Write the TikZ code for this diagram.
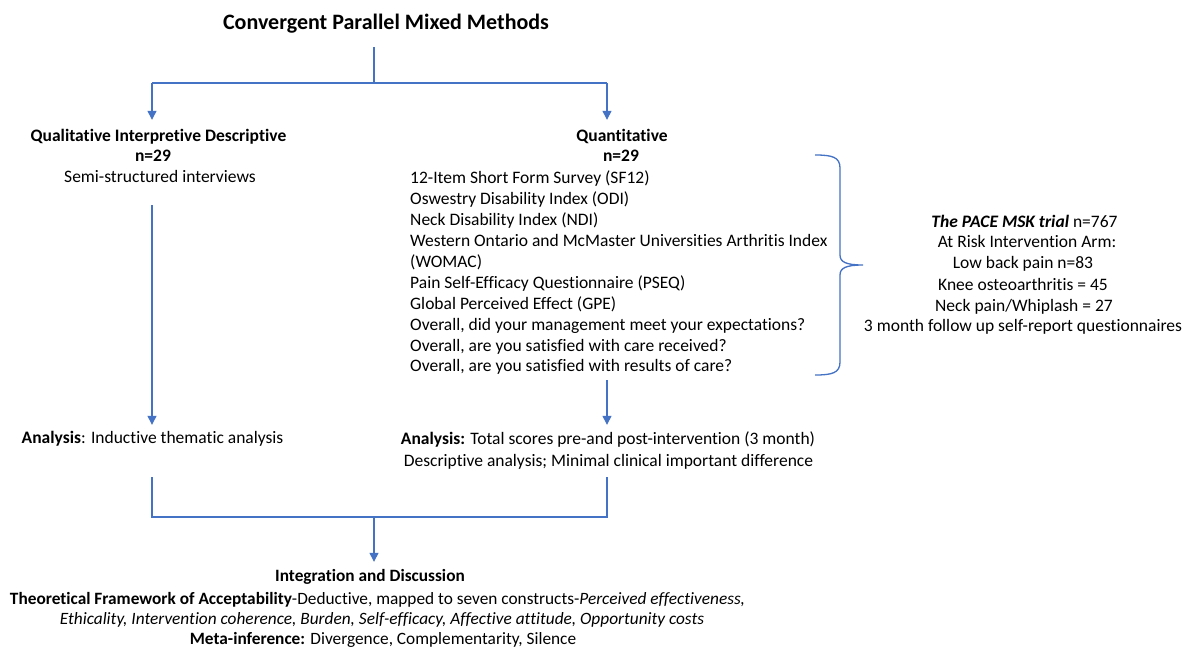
\documentclass[tikz,border=0pt]{standalone}
\usepackage{fontspec}
\setmainfont{Carlito}[RawFeature={-liga;-clig;-calt;-dlig}]
\usetikzlibrary{arrows.meta}
\definecolor{lineblue}{RGB}{68,114,196}
\begin{document}
\begin{tikzpicture}[x=1pt,y=-1pt,
  ln/.style={inner sep=0pt, text height=12pt, text depth=4pt, font=\fontsize{17.5}{21}\selectfont},
  bln/.style={ln, font=\fontsize{17.5}{21}\selectfont\bfseries},
  bot/.style={inner sep=0pt, text height=12pt, text depth=4pt, font=\fontsize{17.3}{20}\selectfont},
  conn/.style={draw=lineblue, line width=1.3pt},
  arr/.style={conn, -{Triangle[width=9pt,length=9pt]}}]
\useasboundingbox[fill=white] (0,0) rectangle (1184,648);

% title
\node[ln, font=\fontsize{22}{26}\selectfont\bfseries, text height=14pt, text depth=5pt] (title) at (386,25) {Convergent Parallel Mixed Methods};

% qualitative branch
\node[bln] (ql1) at (158.5,137) {Qualitative Interpretive Descriptive};
\node[bln] (ql2) at (153,157) {n=29};
\node[ln] (ql3) at (160,178) {Semi-structured interviews};
\node[ln, anchor=west] (qla) at (21.5,439) {\textbf{Analysis}: Inductive thematic analysis};

% quantitative branch
\node[bln] (qn1) at (622,137) {Quantitative};
\node[bln] (qn2) at (621,157) {n=29};
\node[ln, anchor=west] (m1) at (410,179) {12-Item Short Form Survey (SF12)};
\node[ln, anchor=west] (m2) at (410,200) {Oswestry Disability Index (ODI)};
\node[ln, anchor=west] (m3) at (410,221) {Neck Disability Index (NDI)};
\node[ln, anchor=west] (m4) at (410,242) {Western Ontario and McMaster Universities Arthritis Index};
\node[ln, anchor=west] (m5) at (410,263) {(WOMAC)};
\node[ln, anchor=west] (m6) at (410,284) {Pain Self-Efficacy Questionnaire (PSEQ)};
\node[ln, anchor=west] (m7) at (410,305) {Global Perceived Effect (GPE)};
\node[ln, anchor=west] (m8) at (410,326) {Overall, did your management meet your expectations?};
\node[ln, anchor=west] (m9) at (410,347) {Overall, are you satisfied with care received?};
\node[ln, anchor=west] (m10) at (410,367) {Overall, are you satisfied with results of care?};
\node[ln] (qna1) at (608,440) {\textbf{Analysis:} Total scores pre-and post-intervention (3 month)};
\node[ln] (qna2) at (608.5,462) {Descriptive analysis; Minimal clinical important difference};

% trial
\node[ln] (t1) at (1024.5,223) {\textbf{\textit{The PACE MSK trial}} n=767};
\node[ln] (t2) at (1027,243) {At Risk Intervention Arm:};
\node[ln] (t3) at (1023,264) {Low back pain n=83};
\node[ln] (t4) at (1023,286) {Knee osteoarthritis = 45};
\node[ln] (t5) at (1024,307) {Neck pain/Whiplash = 27};
\node[ln] (t6) at (1023,327) {3 month follow up self-report questionnaires};

% integration
\node[bot, font=\fontsize{17.3}{20}\selectfont\bfseries] (i1) at (370,577) {Integration and Discussion};
\node[bot] (i2) at (377.5,600) {\textbf{Theoretical Framework of Acceptability}-Deductive, mapped to seven constructs-\textit{Perceived effectiveness,}};
\node[bot] (i3) at (382,620) {\textit{Ethicality, Intervention coherence, Burden, Self-efficacy, Affective attitude, Opportunity costs}};
\node[bot] (i4) at (383,640) {\textbf{Meta-inference:} Divergence, Complementarity, Silence};

% connectors
\coordinate (top) at (374,47);
\coordinate (split) at (374,83);
\coordinate (Lx) at (152,83);
\coordinate (Rx) at (607,83);
\coordinate (LB) at (152,517);
\coordinate (RB) at (607,517);
\coordinate (join) at (374,517);

\draw[conn] (top) -- (split);
\draw[conn] (Lx) -- (Rx);
\draw[arr, shorten >=9pt] (Lx) -- (Lx |- ql1.north);
\draw[arr, shorten >=9pt] (Rx) -- (Rx |- qn1.north);
\draw[arr, shorten <=19pt, shorten >=6pt] (ql3.south -| Lx) -- (qla.north -| Lx);
\draw[arr, shorten <=5pt, shorten >=7pt] (m10.south -| Rx) -- (qna1.north -| Rx);
\draw[conn, shorten <=30pt, shorten >=7pt] (qla.south -| Lx) -- (LB) -- (RB) -- (qna2.south -| Rx);
\draw[arr, shorten >=7pt] (join) -- (i1.north -| join);

% brace
\draw[conn] (815,155) .. controls (832,155) and (840,157) .. (840,168)
  -- (840,255) .. controls (840,262) and (846,265) .. (863,265)
  .. controls (846,265) and (840,268) .. (840,275)
  -- (840,362) .. controls (840,373) and (832,375) .. (815,375);
\end{tikzpicture}
\end{document}
